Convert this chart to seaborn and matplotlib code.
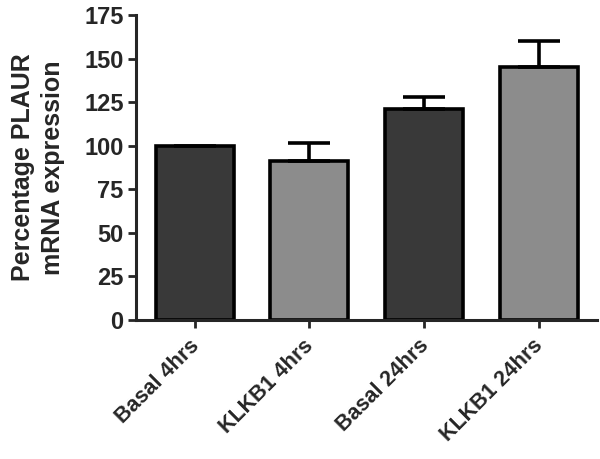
import matplotlib
matplotlib.use("Agg")
import matplotlib.pyplot as plt
import matplotlib.transforms as mtransforms
import numpy as np
import pandas as pd
import seaborn as sns

# Values
conditions = ["Basal 4hrs", "KLKB1 4hrs", "Basal 24hrs", "KLKB1 24hrs"]
expression = [100, 91, 121, 145]
sem_upper = [np.nan, 10.5, 7, 15]
bar_colors = ["#393939", "#8c8c8c", "#393939", "#8c8c8c"]
y_ticks = [0, 25, 50, 75, 100, 125, 150, 175]

sns.set_style("ticks")
plt.rcParams['font.family'] = ['Liberation Sans', 'DejaVu Sans']
plt.rcParams['font.weight'] = 'bold'

df = pd.DataFrame({"condition": conditions, "expression": expression})

fig = plt.figure(figsize=(6, 4.59), dpi=100)
ax = fig.add_axes([0.227, 0.303, 0.768, 0.664])

sns.barplot(data=df, x="condition", y="expression", hue="condition",
            palette=bar_colors, legend=False, width=0.68,
            edgecolor="black", linewidth=2.6, saturation=1, ax=ax)

# upper-only error bars
err = np.array(sem_upper)
ax.errorbar(np.arange(len(conditions)), expression,
            yerr=[np.zeros(len(err)), err], fmt="none",
            ecolor="black", elinewidth=2.6, capsize=15, capthick=2.6, zorder=1)

ax.set_xlim(-0.51, 3.51)
ax.set_ylim(0, 175)
ax.set_yticks(y_ticks)
ax.set_xlabel("")
ax.set_ylabel("Percentage PLAUR\nmRNA expression", fontsize=18, fontweight="bold",
              linespacing=1.3, labelpad=14)
ax.tick_params(axis="y", labelsize=17, width=2, length=6, pad=3)
ax.tick_params(axis="x", labelsize=15.5, width=2, length=6, pad=5)
shift = mtransforms.ScaledTranslation(-6 / 100, 0, fig.dpi_scale_trans)
for lbl in ax.get_xticklabels():
    lbl.set_rotation(45)
    lbl.set_ha("right")
    lbl.set_rotation_mode("anchor")
    lbl.set_fontweight("bold")
    lbl.set_transform(lbl.get_transform() + shift)
for lbl in ax.get_yticklabels():
    lbl.set_fontweight("bold")

for side in ["left", "bottom"]:
    ax.spines[side].set_linewidth(2.2)
sns.despine(ax=ax)

fig.savefig("out.png", dpi=100)
